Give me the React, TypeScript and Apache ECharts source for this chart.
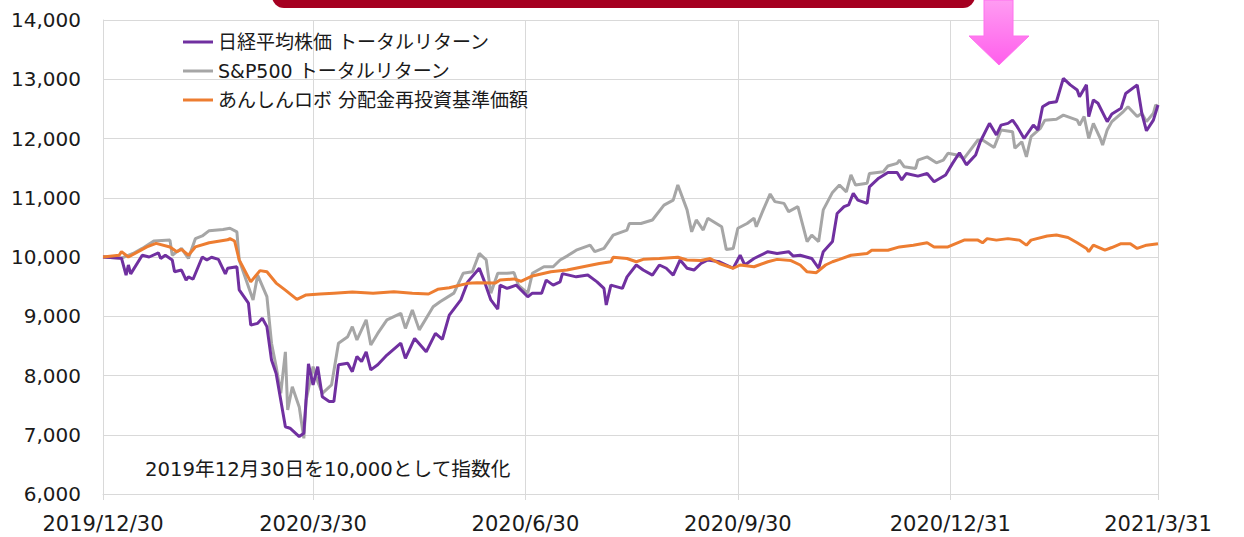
import { useEffect, useRef } from "react";
import * as echarts from "echarts";

const START_DATE = "2019/12/30";
const END_DATE = "2021/3/31";
const X_TICK_LABELS = ["2019/12/30", "2020/3/30", "2020/6/30", "2020/9/30", "2020/12/31", "2021/3/31"];

const NAME_NIKKEI = "日経平均株価 トータルリターン";
const NAME_SP500 = "S&P500 トータルリターン";
const NAME_ROBO = "あんしんロボ 分配金再投資基準価額";
const NOTE_TEXT = "2019年12月30日を10,000として指数化";

const NIKKEI: [string, number][] = [
  ["2019/12/30", 10000], ["2020/1/7", 9980], ["2020/1/9", 9695], ["2020/1/10", 9865], ["2020/1/11", 9715],
  ["2020/1/16", 10030], ["2020/1/19", 10000], ["2020/1/23", 10070], ["2020/1/24", 9975], ["2020/1/26", 10030],
  ["2020/1/29", 9950], ["2020/1/30", 9750], ["2020/2/2", 9780], ["2020/2/4", 9610], ["2020/2/5", 9665],
  ["2020/2/7", 9625], ["2020/2/11", 10000], ["2020/2/13", 9950], ["2020/2/15", 9995], ["2020/2/18", 9960],
  ["2020/2/21", 9715], ["2020/2/22", 9810], ["2020/2/26", 9835], ["2020/2/27", 9445], ["2020/3/2", 9220],
  ["2020/3/3", 8850], ["2020/3/6", 8880], ["2020/3/8", 8965], ["2020/3/10", 8825], ["2020/3/12", 8260],
  ["2020/3/14", 8035], ["2020/3/18", 7135], ["2020/3/20", 7110], ["2020/3/24", 6970], ["2020/3/26", 7025],
  ["2020/3/28", 8195], ["2020/3/30", 7840], ["2020/4/1", 8150], ["2020/4/3", 7640], ["2020/4/6", 7560],
  ["2020/4/8", 7560], ["2020/4/10", 8180], ["2020/4/14", 8205], ["2020/4/16", 8065], ["2020/4/18", 8320],
  ["2020/4/20", 8235], ["2020/4/22", 8400], ["2020/4/24", 8095], ["2020/4/27", 8180], ["2020/5/1", 8345],
  ["2020/5/7", 8545], ["2020/5/9", 8290], ["2020/5/13", 8625], ["2020/5/18", 8400], ["2020/5/22", 8710],
  ["2020/5/25", 8610], ["2020/5/28", 9020], ["2020/6/2", 9275], ["2020/6/5", 9580], ["2020/6/10", 9810],
  ["2020/6/12", 9610], ["2020/6/15", 9275], ["2020/6/18", 9120], ["2020/6/19", 9525], ["2020/6/22", 9470],
  ["2020/6/26", 9525], ["2020/7/1", 9330], ["2020/7/3", 9390], ["2020/7/7", 9390], ["2020/7/9", 9610],
  ["2020/7/12", 9525], ["2020/7/15", 9580], ["2020/7/16", 9720], ["2020/7/22", 9665], ["2020/7/27", 9695],
  ["2020/7/31", 9580], ["2020/8/3", 9470], ["2020/8/4", 9190], ["2020/8/6", 9525], ["2020/8/11", 9470],
  ["2020/8/13", 9665], ["2020/8/17", 9865], ["2020/8/20", 9780], ["2020/8/24", 9695], ["2020/8/27", 9865],
  ["2020/8/30", 9810], ["2020/9/2", 9695], ["2020/9/5", 9950], ["2020/9/8", 9810], ["2020/9/11", 9780],
  ["2020/9/14", 9890], ["2020/9/17", 9950], ["2020/9/22", 9920], ["2020/9/25", 9865], ["2020/9/28", 9810],
  ["2020/10/1", 10030], ["2020/10/3", 9865], ["2020/10/7", 9975], ["2020/10/13", 10090], ["2020/10/17", 10060],
  ["2020/10/22", 10090], ["2020/10/24", 10015], ["2020/10/27", 10030], ["2020/11/1", 9975], ["2020/11/4", 9810],
  ["2020/11/6", 10090], ["2020/11/10", 10260], ["2020/11/12", 10735], ["2020/11/15", 10850], ["2020/11/17", 10880],
  ["2020/11/19", 11075], ["2020/11/21", 10960], ["2020/11/25", 10905], ["2020/11/26", 11185], ["2020/11/30", 11330],
  ["2020/12/4", 11425], ["2020/12/8", 11425], ["2020/12/10", 11300], ["2020/12/12", 11410], ["2020/12/17", 11365],
  ["2020/12/21", 11410], ["2020/12/24", 11270], ["2020/12/29", 11385], ["2021/1/1", 11580], ["2021/1/4", 11760],
  ["2021/1/7", 11555], ["2021/1/11", 11720], ["2021/1/13", 11945], ["2021/1/17", 12255], ["2021/1/20", 12060],
  ["2021/1/22", 12225], ["2021/1/25", 12255], ["2021/1/27", 12310], ["2021/1/29", 12200], ["2021/2/1", 12000],
  ["2021/2/5", 12225], ["2021/2/7", 12145], ["2021/2/9", 12535], ["2021/2/12", 12605], ["2021/2/15", 12620],
  ["2021/2/18", 13015], ["2021/2/21", 12905], ["2021/2/24", 12820], ["2021/2/25", 12705], ["2021/2/28", 12905],
  ["2021/3/1", 12370], ["2021/3/3", 12650], ["2021/3/5", 12595], ["2021/3/9", 12285], ["2021/3/11", 12415],
  ["2021/3/15", 12510], ["2021/3/17", 12760], ["2021/3/22", 12905], ["2021/3/24", 12425], ["2021/3/26", 12130],
  ["2021/3/29", 12310], ["2021/3/31", 12565],
];

const SP500: [string, number][] = [
  ["2019/12/30", 10000], ["2020/1/7", 9980], ["2020/1/12", 10060], ["2020/1/16", 10145], ["2020/1/21", 10270],
  ["2020/1/28", 10285], ["2020/1/29", 10030], ["2020/2/2", 10145], ["2020/2/5", 9975], ["2020/2/8", 10310],
  ["2020/2/11", 10355], ["2020/2/14", 10445], ["2020/2/20", 10465], ["2020/2/23", 10485], ["2020/2/26", 10425],
  ["2020/2/27", 9950], ["2020/3/1", 9610], ["2020/3/4", 9275], ["2020/3/6", 9695], ["2020/3/10", 9330],
  ["2020/3/12", 8545], ["2020/3/14", 8150], ["2020/3/16", 7700], ["2020/3/18", 8400], ["2020/3/19", 7420],
  ["2020/3/21", 7810], ["2020/3/24", 7470], ["2020/3/26", 6940], ["2020/3/27", 7585], ["2020/3/30", 8150],
  ["2020/4/1", 7900], ["2020/4/3", 7700], ["2020/4/7", 7840], ["2020/4/10", 8545], ["2020/4/14", 8655],
  ["2020/4/16", 8825], ["2020/4/18", 8600], ["2020/4/22", 8940], ["2020/4/24", 8515], ["2020/4/27", 8710],
  ["2020/5/1", 8940], ["2020/5/7", 9050], ["2020/5/9", 8795], ["2020/5/12", 9105], ["2020/5/15", 8770],
  ["2020/5/21", 9160], ["2020/5/24", 9245], ["2020/5/30", 9390], ["2020/6/3", 9725], ["2020/6/7", 9750],
  ["2020/6/10", 10060], ["2020/6/13", 9950], ["2020/6/15", 9390], ["2020/6/18", 9725], ["2020/6/22", 9725],
  ["2020/6/25", 9740], ["2020/6/27", 9520], ["2020/7/1", 9390], ["2020/7/3", 9725], ["2020/7/8", 9835],
  ["2020/7/12", 9835], ["2020/7/15", 9950], ["2020/7/18", 10015], ["2020/7/22", 10115], ["2020/7/28", 10200],
  ["2020/7/30", 10090], ["2020/8/3", 10145], ["2020/8/7", 10370], ["2020/8/13", 10455], ["2020/8/14", 10565],
  ["2020/8/19", 10565], ["2020/8/24", 10625], ["2020/8/29", 10875], ["2020/9/2", 10960], ["2020/9/4", 11215],
  ["2020/9/8", 10795], ["2020/9/10", 10425], ["2020/9/12", 10625], ["2020/9/15", 10455], ["2020/9/17", 10655],
  ["2020/9/23", 10510], ["2020/9/25", 10125], ["2020/9/28", 10145], ["2020/9/30", 10485], ["2020/10/4", 10565],
  ["2020/10/7", 10655], ["2020/10/8", 10510], ["2020/10/11", 10795], ["2020/10/14", 11065], ["2020/10/16", 10935],
  ["2020/10/20", 10905], ["2020/10/22", 10765], ["2020/10/26", 10850], ["2020/10/30", 10260], ["2020/11/1", 10370],
  ["2020/11/4", 10260], ["2020/11/6", 10795], ["2020/11/10", 11090], ["2020/11/13", 11215], ["2020/11/16", 11100],
  ["2020/11/18", 11385], ["2020/11/20", 11215], ["2020/11/25", 11245], ["2020/11/26", 11410], ["2020/12/2", 11440],
  ["2020/12/4", 11535], ["2020/12/8", 11580], ["2020/12/9", 11635], ["2020/12/11", 11525], ["2020/12/16", 11495],
  ["2020/12/17", 11635], ["2020/12/21", 11690], ["2020/12/25", 11590], ["2020/12/28", 11635], ["2020/12/30", 11750],
  ["2021/1/3", 11720], ["2021/1/6", 11665], ["2021/1/12", 11975], ["2021/1/14", 11975], ["2021/1/19", 11850],
  ["2021/1/22", 12145], ["2021/1/27", 12115], ["2021/1/28", 11835], ["2021/1/31", 11945], ["2021/2/2", 11690],
  ["2021/2/4", 12030], ["2021/2/8", 12170], ["2021/2/10", 12310], ["2021/2/15", 12325], ["2021/2/18", 12395],
  ["2021/2/24", 12310], ["2021/2/25", 12225], ["2021/2/27", 12370], ["2021/3/1", 12000], ["2021/3/3", 12255],
  ["2021/3/6", 12000], ["2021/3/7", 11890], ["2021/3/9", 12145], ["2021/3/11", 12285], ["2021/3/16", 12455],
  ["2021/3/18", 12535], ["2021/3/22", 12370], ["2021/3/24", 12425], ["2021/3/26", 12285], ["2021/3/29", 12425],
  ["2021/3/30", 12565], ["2021/3/31", 12535],
];

const ROBO: [string, number][] = [
  ["2019/12/30", 10000], ["2020/1/6", 10030], ["2020/1/7", 10090], ["2020/1/10", 10000], ["2020/1/18", 10170],
  ["2020/1/22", 10230], ["2020/1/28", 10170], ["2020/1/31", 10090], ["2020/2/2", 10130], ["2020/2/5", 10030],
  ["2020/2/8", 10170], ["2020/2/14", 10240], ["2020/2/22", 10290], ["2020/2/23", 10310], ["2020/2/25", 10270],
  ["2020/2/27", 9950], ["2020/3/3", 9580], ["2020/3/7", 9770], ["2020/3/10", 9750], ["2020/3/14", 9560],
  ["2020/3/18", 9440], ["2020/3/23", 9285], ["2020/3/27", 9360], ["2020/4/2", 9375], ["2020/4/8", 9390],
  ["2020/4/16", 9410], ["2020/4/25", 9390], ["2020/5/4", 9415], ["2020/5/12", 9390], ["2020/5/19", 9375],
  ["2020/5/23", 9455], ["2020/5/28", 9480], ["2020/6/5", 9555], ["2020/6/9", 9565], ["2020/6/17", 9560],
  ["2020/6/19", 9610], ["2020/6/25", 9630], ["2020/6/28", 9590], ["2020/7/3", 9680], ["2020/7/11", 9750],
  ["2020/7/18", 9780], ["2020/7/25", 9835], ["2020/8/1", 9890], ["2020/8/6", 9920], ["2020/8/7", 9995],
  ["2020/8/13", 9975], ["2020/8/17", 9920], ["2020/8/20", 9960], ["2020/8/27", 9975], ["2020/9/4", 9995],
  ["2020/9/8", 9950], ["2020/9/14", 9940], ["2020/9/18", 9975], ["2020/9/22", 9890], ["2020/9/28", 9810],
  ["2020/10/1", 9865], ["2020/10/7", 9835], ["2020/10/13", 9920], ["2020/10/17", 9960], ["2020/10/23", 9940],
  ["2020/10/27", 9865], ["2020/10/30", 9750], ["2020/11/3", 9735], ["2020/11/7", 9865], ["2020/11/10", 9920],
  ["2020/11/13", 9960], ["2020/11/18", 10030], ["2020/11/25", 10060], ["2020/11/27", 10115], ["2020/12/4", 10115],
  ["2020/12/9", 10170], ["2020/12/15", 10200], ["2020/12/21", 10240], ["2020/12/24", 10170], ["2020/12/30", 10170],
  ["2021/1/6", 10285], ["2021/1/12", 10285], ["2021/1/14", 10240], ["2021/1/16", 10310], ["2021/1/20", 10285],
  ["2021/1/25", 10310], ["2021/1/30", 10285], ["2021/2/2", 10200], ["2021/2/4", 10285], ["2021/2/11", 10355],
  ["2021/2/15", 10370], ["2021/2/20", 10330], ["2021/2/24", 10240], ["2021/2/28", 10145], ["2021/3/1", 10090],
  ["2021/3/3", 10200], ["2021/3/8", 10115], ["2021/3/11", 10160], ["2021/3/15", 10225], ["2021/3/19", 10225],
  ["2021/3/22", 10145], ["2021/3/26", 10200], ["2021/3/31", 10225],
];

function buildDays(start: string, end: string): string[] {
  const [sy, sm, sd] = start.split("/").map(Number);
  const [ey, em, ed] = end.split("/").map(Number);
  const out: string[] = [];
  const d = new Date(Date.UTC(sy, sm - 1, sd));
  const stop = Date.UTC(ey, em - 1, ed);
  while (d.getTime() <= stop) {
    out.push(`${d.getUTCFullYear()}/${d.getUTCMonth() + 1}/${d.getUTCDate()}`);
    d.setUTCDate(d.getUTCDate() + 1);
  }
  return out;
}

const FONT_NUM = "'DejaVu Sans', Verdana, sans-serif";
const FONT_JP = "'DejaVu Sans', 'Noto Sans CJK JP', sans-serif";
const TEXT_COLOR = "#1a1a1a";
const GRID_COLOR = "#d9d9d9";

export default function App() {
  const ref = useRef<HTMLDivElement>(null);

  useEffect(() => {
    document.body.style.margin = "0";
    if (!ref.current) return;
    const chart = echarts.init(ref.current, undefined, { renderer: "svg" });
    const days = buildDays(START_DATE, END_DATE);
    const isTick = (_i: number, v: string) => X_TICK_LABELS.includes(v);

    chart.setOption({
      animation: false,
      backgroundColor: "#ffffff",
      grid: { left: 103, right: 86, top: 20, bottom: 43, containLabel: false },
      legend: {
        data: [NAME_NIKKEI, NAME_SP500, NAME_ROBO],
        orient: "vertical",
        left: 178,
        top: 27,
        icon: "rect",
        itemWidth: 30,
        itemHeight: 3,
        itemGap: 9,
        selectedMode: false,
        textStyle: { fontSize: 19, lineHeight: 20, fontFamily: FONT_JP, color: TEXT_COLOR },
      },
      xAxis: {
        type: "category",
        data: days,
        boundaryGap: false,
        axisLine: { show: true, lineStyle: { color: GRID_COLOR, width: 1 } },
        axisTick: { show: true, interval: isTick, length: 6, lineStyle: { color: GRID_COLOR } },
        splitLine: { show: true, interval: isTick, lineStyle: { color: GRID_COLOR, width: 1 } },
        axisLabel: {
          interval: isTick,
          fontSize: 21,
          fontFamily: FONT_NUM,
          color: TEXT_COLOR,
          margin: 19,
        },
      },
      yAxis: {
        type: "value",
        min: 6000,
        max: 14000,
        interval: 1000,
        axisLine: { show: true, lineStyle: { color: GRID_COLOR, width: 1 } },
        axisTick: { show: false },
        splitLine: { show: true, lineStyle: { color: GRID_COLOR, width: 1 } },
        axisLabel: {
          fontSize: 20,
          fontFamily: FONT_NUM,
          color: TEXT_COLOR,
          margin: 22,
          formatter: (v: number) => v.toLocaleString("en-US"),
        },
      },
      series: [
        {
          name: NAME_NIKKEI,
          type: "line",
          data: NIKKEI,
          showSymbol: false,
          symbol: "none",
          z: 3,
          color: "#7030A0",
          lineStyle: { width: 3, color: "#7030A0" },
        },
        {
          name: NAME_SP500,
          type: "line",
          data: SP500,
          showSymbol: false,
          symbol: "none",
          z: 2,
          color: "#A6A6A6",
          lineStyle: { width: 3, color: "#A6A6A6" },
        },
        {
          name: NAME_ROBO,
          type: "line",
          data: ROBO,
          showSymbol: false,
          symbol: "none",
          z: 4,
          color: "#ED7D31",
          lineStyle: { width: 3, color: "#ED7D31" },
        },
      ],
      graphic: [
        {
          type: "rect",
          shape: { x: 272, y: -20, width: 703, height: 28, r: 12 },
          style: { fill: "#A50021" },
          z: 10,
        },
        {
          type: "polygon",
          shape: {
            points: [
              [984, 0], [1013, 0], [1013, 36], [1029, 36], [999, 65], [969, 36], [984, 36],
            ],
          },
          style: {
            fill: new echarts.graphic.LinearGradient(0, 0, 0, 1, [
              { offset: 0, color: "#FF9CF2" },
              { offset: 1, color: "#FF5EEC" },
            ]),
            stroke: "#FF70EE",
            lineWidth: 1,
          },
          z: 10,
        },
        {
          type: "text",
          x: 145,
          y: 469,
          style: {
            text: NOTE_TEXT,
            fontSize: 19.7,
            fontFamily: FONT_JP,
            fill: TEXT_COLOR,
            verticalAlign: "middle",
          },
          z: 10,
        },
      ],
    });

    return () => chart.dispose();
  }, []);

  return <div ref={ref} style={{ width: 1244, height: 537 }} />;
}
